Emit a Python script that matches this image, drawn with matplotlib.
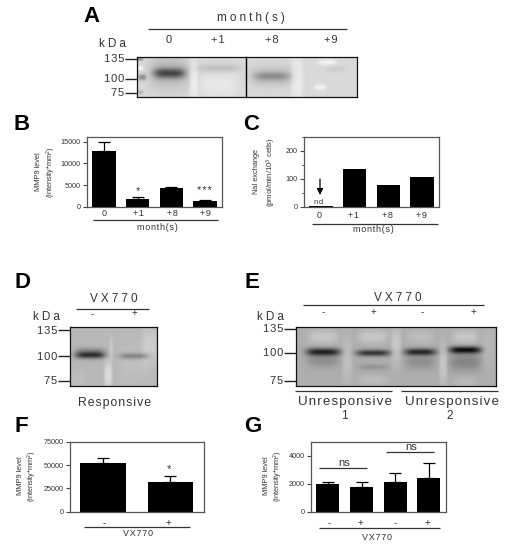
import numpy as np
import matplotlib
matplotlib.use('Agg')
import matplotlib.pyplot as plt

plt.rcParams['font.family'] = ['Liberation Sans', 'DejaVu Sans']
plt.rcParams['mathtext.fontset'] = 'custom'
plt.rcParams['mathtext.rm'] = 'Liberation Sans'
plt.rcParams['mathtext.default'] = 'rm'

# chart values
month_labels = ['0', '+1', '+8', '+9']
b_values = [12900, 1800, 4300, 1200]
b_errors = [2000, 400, 300, 300]
c_values = [1, 137, 77, 105]
f_labels = ['-', '+']
f_values = [51700, 31400]
f_errors = [5400, 6500]
g_labels = ['-', '+', '-', '+']
g_values = [1950, 1740, 2100, 2430]
g_errors = [190, 380, 640, 1020]

# blots: blob = (cx, cy, half width, half height, level change), figure pixels
a_blobs = [(140, 59, 3, 1.5, -0.3), (142, 77, 4, 3, -0.3), (140, 92, 3, 2, -0.15), (140, 68, 3, 2, 0.12),
           (169, 72, 20, 17, -0.14), (169, 73, 16, 5, -0.45), (218, 68, 22, 4, -0.1), (218, 85, 20, 12, 0.06),
           (271, 76, 21, 9, -0.14), (271, 76, 18, 4, -0.16), (193, 80, 4, 25, 0.08), (296, 80, 6, 25, 0.08),
           (326, 62, 9, 3, 0.1), (319, 87, 6, 3, 0.1), (335, 69, 10, 3, -0.05)]
d_blobs = [(90, 355, 15, 3.5, -0.55), (90, 350, 15, 3, -0.12), (134, 356, 15, 3, -0.22), (134, 363, 16, 20, 0.03),
           (108, 375, 4, 14, 0.14), (111, 348, 2, 10, 0.07), (150, 345, 8, 18, 0.08), (78, 380, 8, 8, 0.03)]
e_blobs = [(323, 352, 17, 3.8, -0.55), (373, 353, 17, 3.2, -0.48), (420, 352, 16, 3.5, -0.52), (465, 350, 16, 3.5, -0.62),
           (323, 337, 15, 7, 0.1), (373, 337, 15, 7, 0.1), (420, 337, 14, 7, 0.06), (465, 337, 13, 7, 0.1),
           (323, 361, 16, 6, -0.12), (373, 367, 15, 3, -0.1), (373, 380, 15, 5, 0.06), (420, 362, 15, 7, -0.12),
           (465, 362, 16, 9, -0.16), (465, 382, 12, 6, 0.05),
           (347, 360, 5, 26, 0.07), (396, 345, 5, 20, 0.1), (443, 365, 4, 22, 0.1), (488, 345, 6, 20, 0.04)]

fig = plt.figure(figsize=(5.08, 5.50), dpi=100)
W, H = 508.0, 550.0

# overlay in figure pixels for labels, rules and gel ticks
ov = fig.add_axes([0, 0, 1, 1], zorder=10)
ov.set_xlim(0, W)
ov.set_ylim(H, 0)
ov.axis('off')
ov.patch.set_alpha(0)

def spaced(s):
    return '\u200a'.join(s)

def txt(x, y, s, size=6, **kw):
    kw.setdefault('color', '#333333')
    kw.setdefault('ha', 'center')
    kw.setdefault('va', 'center')
    ov.text(x, y, s, fontsize=size, **kw)

def rule(x0, x1, y, lw=0.9, color='#333333'):
    ov.plot([x0, x1], [y, y], color=color, lw=lw, solid_capstyle='butt')

def axes_px(x0, x1, y0, y1):
    return fig.add_axes([x0 / W, 1 - y1 / H, (x1 - x0) / W, (y1 - y0) / H])

def blot(x0, x1, y0, y1, base, blobs):
    xx, yy = np.meshgrid(np.arange(x0, x1, 0.5), np.arange(y0, y1, 0.5))
    im = np.full(xx.shape, float(base))
    for cx, cy, wx, wy, amp in blobs:
        im += amp * np.exp(-np.abs((xx - cx) / wx) ** 4 - ((yy - cy) / wy) ** 2)
    ax = axes_px(x0, x1, y0, y1)
    ax.imshow(im, cmap='gray', vmin=0, vmax=1, aspect='auto', interpolation='bilinear')
    ax.set_xticks([])
    ax.set_yticks([])
    for s in ax.spines.values():
        s.set_linewidth(0.9)
        s.set_color('#111111')
    return ax

def gel_ticks(xr, ys, labels, size=8):
    for y, lab in zip(ys, labels):
        ov.plot([xr - 12, xr], [y, y], color='#222222', lw=1.0, solid_capstyle='butt')
        txt(xr - 13, y + 0.5, spaced(lab), size=size, ha='right')

def bars(ax, vals, errs, width, ymax, ticks, minor=None):
    x = np.arange(len(vals))
    ax.bar(x, vals, width=width, color='black')
    if errs is not None:
        ax.errorbar(x, vals, yerr=[np.zeros(len(errs)), errs], fmt='none', ecolor='black',
                    elinewidth=0.9, capsize=4, capthick=0.9)
    ax.set_xlim(-0.5, len(vals) - 0.5)
    ax.set_ylim(0, ymax)
    ax.set_xticks([])
    ax.set_yticks(ticks)
    if minor:
        ax.set_yticks(minor, minor=True)
        ax.tick_params(axis='y', which='minor', length=1.8, width=0.7, color='#444444')
    ax.tick_params(axis='y', length=3, width=0.8, labelsize=5.2, pad=1.5, color='#444444', labelcolor='#333333')
    for s in ax.spines.values():
        s.set_linewidth(0.9)
        s.set_color('#555555')
    return x

# panel A
blot(137, 357, 57, 97, 0.85, a_blobs)
ov.plot([245.5, 245.5], [57, 97], color='black', lw=1.0)
txt(92, 16, 'A', size=16, weight='bold', color='black')
txt(251, 18, spaced(spaced('month(s)')), size=8.5)
rule(148, 347, 29)
for xp, lab in zip([169, 218, 272, 331], month_labels):
    txt(xp, 40, spaced(lab), size=8)
txt(112, 44, spaced(spaced('kDa')), size=8.5)
gel_ticks(137, [59, 79, 93], ['135', '100', '75'])

# panel B
ax_b = axes_px(87, 222, 137, 206.7)
bars(ax_b, b_values, b_errors, 0.7, 16080, [0, 5000, 10000, 15000])
txt(22, 125, 'B', size=16, weight='bold', color='black')
txt(38, 172, 'MMP9 level', size=5.3, rotation=90)
txt(51, 172, '(intensity*mm$^2$)', size=5.3, rotation=90)
txt(138, 191, '*', size=8)
txt(204, 191, spaced('***'), size=8)
for xp, lab in zip([104, 138, 172, 205], month_labels):
    txt(xp, 214, spaced(lab), size=6.5)
rule(93, 218, 220)
txt(157, 228, spaced('month(s)'), size=6.5)

# panel C
ax_c = axes_px(304, 439, 137, 206.7)
bars(ax_c, c_values, None, 0.7, 249, [0, 100, 200], minor=[50, 150, 250])
txt(251, 125, 'C', size=16, weight='bold', color='black')
txt(257, 172, 'NaI exchange', size=5.3, rotation=90)
txt(271, 172, '(pmol/min/10$^3$ cells)', size=5.6, rotation=90)
ov.annotate('', xy=(320, 195), xytext=(320, 179),
            arrowprops=dict(arrowstyle='-|>', color='black', lw=0.9, mutation_scale=9, shrinkA=0, shrinkB=0))
txt(319, 202, spaced('nd'), size=5.5)
for xp, lab in zip([319, 353, 387, 421], month_labels):
    txt(xp, 216, spaced(lab), size=6.5)
rule(312, 438, 224)
txt(373, 230, spaced('month(s)'), size=6.5)

# panel D
blot(70, 157, 326.5, 386, 0.72, d_blobs)
txt(22, 282, 'D', size=16, weight='bold', color='black')
txt(114, 299, spaced(spaced('VX770')), size=8.5)
rule(76, 149, 309)
txt(92, 314, '-', size=7)
txt(134, 313, '+', size=7)
txt(46, 317, spaced(spaced('kDa')), size=8.5)
gel_ticks(70, [330, 356, 381], ['135', '100', '75'])
txt(115, 403, spaced('Responsive'), size=8.8)

# panel E
blot(296, 496, 326.5, 386, 0.68, e_blobs)
txt(252, 283, 'E', size=16, weight='bold', color='black')
txt(398, 298, spaced(spaced('VX770')), size=8.5)
rule(303, 484, 305)
for xp, lab in zip([323, 373, 422, 473], g_labels):
    txt(xp, 312, lab, size=7)
txt(270, 317, spaced(spaced('kDa')), size=8.5)
gel_ticks(296, [329, 353, 381], ['135', '100', '75'])
rule(295, 392, 391)
rule(401, 498, 391)
txt(345, 402, spaced('Unresponsive'), size=9.6)
txt(452, 402, spaced('Unresponsive'), size=9.6)
txt(344, 416, '1', size=8.5)
txt(450, 416, '2', size=8.5)

# panel F
ax_f = axes_px(69.5, 204, 441.7, 511.7)
bars(ax_f, f_values, f_errors, 0.673, 75000, [0, 25000, 50000, 75000])
txt(21, 427, 'F', size=16, weight='bold', color='black')
txt(20, 476, 'MMP9 level', size=5.3, rotation=90)
txt(32, 476, '(intensity*mm$^2$)', size=5.3, rotation=90)
txt(169, 469, '*', size=8)
txt(104, 523, f_labels[0], size=7)
txt(168, 523, f_labels[1], size=7)
rule(84, 190, 527)
txt(138, 534, spaced('VX770'), size=6.5)

# panel G
ax_g = axes_px(311, 445.7, 441.7, 511.7)
bars(ax_g, g_values, g_errors, 0.69, 5000, [0, 2000, 4000])
txt(253, 427, 'G', size=16, weight='bold', color='black')
txt(266, 476, 'MMP9 level', size=5.3, rotation=90)
txt(278, 476, '(intensity*mm$^2$)', size=5.3, rotation=90)
rule(319, 367, 468)
txt(344, 463, 'ns', size=8)
rule(386, 434, 452)
txt(411, 447, 'ns', size=8)
for xp, lab in zip([329, 360, 395, 427], g_labels):
    txt(xp, 523, lab, size=7)
rule(319, 440, 528)
txt(377, 537, spaced('VX770'), size=6.5)

plt.savefig('out.png', dpi=100)
